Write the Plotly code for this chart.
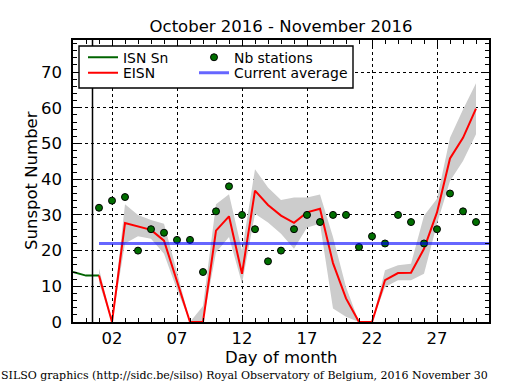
import plotly.graph_objects as go

# ---------------- data ----------------
days = list(range(1, 31))
eisn = [13, 0, 27.7, 26.7, 25.8, 22.8, 11.5, 0, 0, 25.6, 29.6, 13.5, 36.8, 32.8, 29.8,
        27.8, 30.7, 31.7, 16.5, 6.6, 0, 0, 11.7, 13.7, 13.8, 20.5, 30.7, 45.8, 51.6, 59.8]
eisn_upper = [15, 0, 33, 30, 28.6, 27.5, 14, 0, 4.5, 33, 35.8, 20, 42.8, 37.7, 34.2,
              34.9, 34.9, 35.7, 23.8, 9.8, 0, 0, 14.5, 15.9, 16.3, 29.8, 34.5, 51.6, 59.5, 66.9]
eisn_lower = [11, 0, 22, 24, 23.3, 19.1, 9, 0, 0, 19.5, 23.8, 10.8, 30.3, 27.9, 24.7,
              20.5, 26.5, 27.5, 3.8, 1.5, 0, 0, 9.8, 11.7, 11.7, 13.5, 27.5, 39.5, 45.1, 52.6]
nb_stations = [32, 34, 35, 20, 26, 25, 23, 23, 14, 31, 38, 30, 26, 17, 20,
               26, 30, 28, 30, 30, 21, 24, 22, 30, 28, 22, 26, 36, 31, 28]
isn_days = [-1, 0, 1]
isn_values = [14, 13, 13]
avg_days = [1, 31]
avg_values = [22, 22]
tick_days = [2, 7, 12, 17, 22, 27]
tick_labels = ["02", "07", "12", "17", "22", "27"]
separator_day = 0.5

FONT = "DejaVu Sans"

# plot area in pixels (for placing paper-referenced decorations)
L, R, T, B = 73, 489, 40, 322
PW, PH = R - L, B - T


def px(x):
    return (x - L) / PW


def py(y):
    return (B - y) / PH


fig = go.Figure()

# error band
fig.add_trace(go.Scatter(
    x=days + days[::-1], y=eisn_upper + eisn_lower[::-1],
    fill="toself", fillcolor="#cccccc", line=dict(width=0),
    mode="lines", hoverinfo="skip", showlegend=False))

fig.add_trace(go.Scatter(x=isn_days, y=isn_values, mode="lines", name="ISN Sn",
                         line=dict(color="#006400", width=2), legend="legend"))
fig.add_trace(go.Scatter(x=days, y=eisn, mode="lines", name="EISN",
                         line=dict(color="#ff0000", width=2), legend="legend2"))
fig.add_trace(go.Scatter(x=days, y=nb_stations, mode="markers", name="Nb stations",
                         marker=dict(color="#006e00", size=7, line=dict(color="black", width=1)),
                         legend="legend3"))
fig.add_trace(go.Scatter(x=avg_days, y=avg_values, mode="lines", name="Current average",
                         line=dict(color="rgba(0,0,255,0.6)", width=3), legend="legend4"))

fig.add_vline(x=separator_day, line=dict(color="black", width=1.5))

# legend frame
fig.add_shape(type="rect", xref="paper", yref="paper",
              x0=px(79), x1=px(353), y0=py(88), y1=py(46),
              line=dict(color="black", width=1.4), fillcolor="white", layer="above")

axis_common = dict(
    showline=True, linecolor="black", linewidth=1.5, mirror="allticks",
    ticks="inside", ticklen=7, tickcolor="black", tickwidth=1,
    showgrid=True, gridcolor="black", gridwidth=1, griddash="dot",
    zeroline=False, tickfont=dict(family=FONT, size=16.5, color="black"),
)

fig.update_xaxes(range=[-1, 31], tickvals=tick_days, ticktext=tick_labels,
                 minor=dict(dtick=1, tick0=0, ticks="inside", ticklen=4, tickcolor="black", showgrid=False),
                 **axis_common)
fig.update_yaxes(range=[0, 79], dtick=10, tick0=0, ticklabelstandoff=6,
                 minor=dict(dtick=2, tick0=0, ticks="inside", ticklen=4, tickcolor="black", showgrid=False),
                 **axis_common)

legend_common = dict(
    orientation="v", xanchor="left", yanchor="middle", bgcolor="rgba(0,0,0,0)",
    borderwidth=0, font=dict(family=FONT, size=13.9, color="black"),
    tracegroupgap=0, itemwidth=30,
)

row1, row2 = py(57.7), py(73.3)
col1, col2 = px(83), px(194)

fig.update_layout(
    width=515, height=390,
    margin=dict(l=L, r=515 - R, t=T, b=390 - B),
    paper_bgcolor="white", plot_bgcolor="white",
    title=dict(text="October 2016 - November 2016", x=0.5, xref="paper",
               y=1 - 26 / 390, yanchor="middle",
               font=dict(family=FONT, size=16.5, color="black")),
    legend=dict(x=col1, y=row1, **legend_common),
    legend2=dict(x=col1, y=row2, **legend_common),
    legend3=dict(x=col2, y=row1, **legend_common),
    legend4=dict(x=col2, y=row2, **legend_common),
    showlegend=True,
    annotations=[
        dict(text="Day of month", xref="paper", yref="paper", x=0.5, y=py(357),
             showarrow=False, xanchor="center", yanchor="middle",
             font=dict(family=FONT, size=16.5, color="black")),
        dict(text="Sunspot Number", xref="paper", yref="paper", x=px(31), y=0.5,
             textangle=-90, showarrow=False, xanchor="center", yanchor="middle",
             font=dict(family=FONT, size=16.5, color="black")),
        dict(text="SILSO graphics (http://sidc.be/silso) Royal Observatory of Belgium, 2016 November 30",
             xref="paper", yref="paper", x=px(-1), y=py(375),
             showarrow=False, xanchor="left", yanchor="middle",
             font=dict(family="DejaVu Serif", size=11, color="black")),
    ],
)

fig.write_html("out.html", config={"displayModeBar": False},
               post_script="document.body.style.margin='0px';")
